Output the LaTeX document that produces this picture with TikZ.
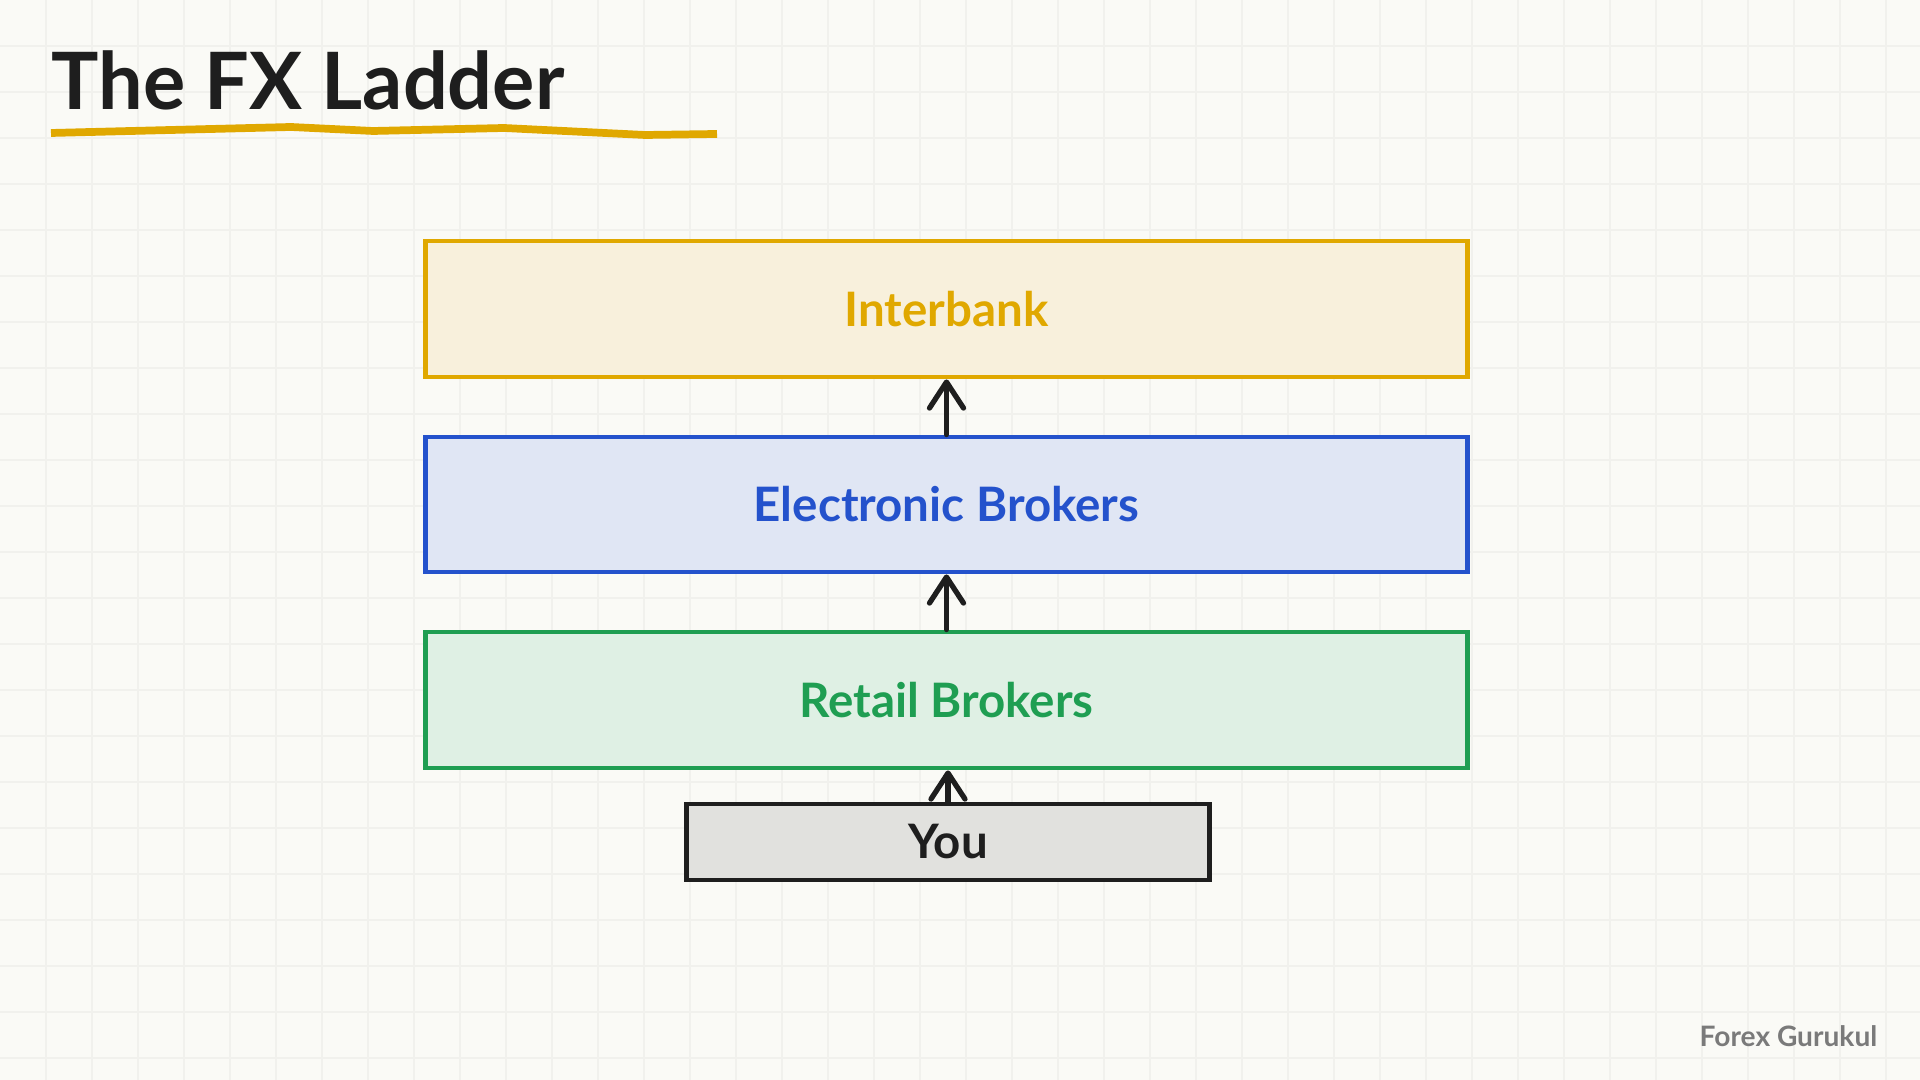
\documentclass[tikz,border=0pt]{standalone}
\usepackage{fontspec}
\setmainfont{Lato}
\usetikzlibrary{arrows.meta}
\definecolor{bg}{HTML}{FAFAF6}
\definecolor{gridc}{HTML}{F1F1ED}
\definecolor{ibS}{HTML}{E0A800}
\definecolor{ibF}{HTML}{F8F0DC}
\definecolor{ebS}{HTML}{2452CC}
\definecolor{ebF}{HTML}{E0E6F4}
\definecolor{rbS}{HTML}{1F9E52}
\definecolor{rbF}{HTML}{DFF0E4}
\definecolor{yuS}{HTML}{1E1E1E}
\definecolor{yuF}{HTML}{E1E1DE}
\definecolor{markc}{HTML}{7A7A7A}
\tikzset{
  layer/.style={draw, line width=1.35pt, minimum width=10.41cm, minimum height=1.35cm,
    inner sep=0pt, font=\fontsize{13.5}{16}\selectfont\bfseries},
  youbox/.style={draw=yuS, fill=yuF, text=yuS, line width=1.4pt, minimum width=5.22cm,
    minimum height=0.76cm, inner sep=0pt, font=\fontsize{13.5}{16}\selectfont\bfseries},
  arr/.style={draw=yuS, line width=1.5pt, line cap=round,
    -{Straight Barb[length=2.6mm, width=3.4mm, line width=1.5pt, round]}},
}
\begin{document}
\begin{tikzpicture}[x=0.01cm, y=-0.01cm]
\fill[bg] (0,0) rectangle (1920,1080);
\useasboundingbox (0,0) rectangle (1920,1080);
\foreach \i in {1,...,41} \draw[gridc, line width=0.3pt] (\i*46,0) -- (\i*46,1080);
\foreach \j in {1,...,23} \draw[gridc, line width=0.3pt] (0,\j*46) -- (1920,\j*46);

\node[anchor=base west, inner sep=0pt, font=\fontsize{22.5}{24}\selectfont\bfseries, text=yuS] (title) at (51,110) {The FX Ladder};
\draw[ibS, line width=2.2pt, line cap=butt, line join=round] (51,133) -- (291,127) -- (373,131) -- (504,128) -- (645,135) -- (717,134);

\node[layer, draw=ibS, fill=ibF, text=ibS, minimum height=1.36cm] (ib) at (946.5,309) {Interbank};
\node[layer, draw=ebS, fill=ebF, text=ebS] (eb) at (946.5,504.5) {Electronic Brokers};
\node[layer, draw=rbS, fill=rbF, text=rbS, minimum height=1.36cm] (rb) at (946.5,700) {Retail Brokers};
\node[youbox] (you) at (948,842) {You};

\draw[arr] (eb.north) -- (ib.south);
\draw[arr] (rb.north) -- (eb.south);
\draw[arr] (you.north) -- (you.north |- rb.south);

\node[anchor=base east, inner sep=0pt, text=markc, font=\fontsize{8}{10}\selectfont\bfseries] (mark) at (1878,1047) {Forex Gurukul};
\end{tikzpicture}
\end{document}
